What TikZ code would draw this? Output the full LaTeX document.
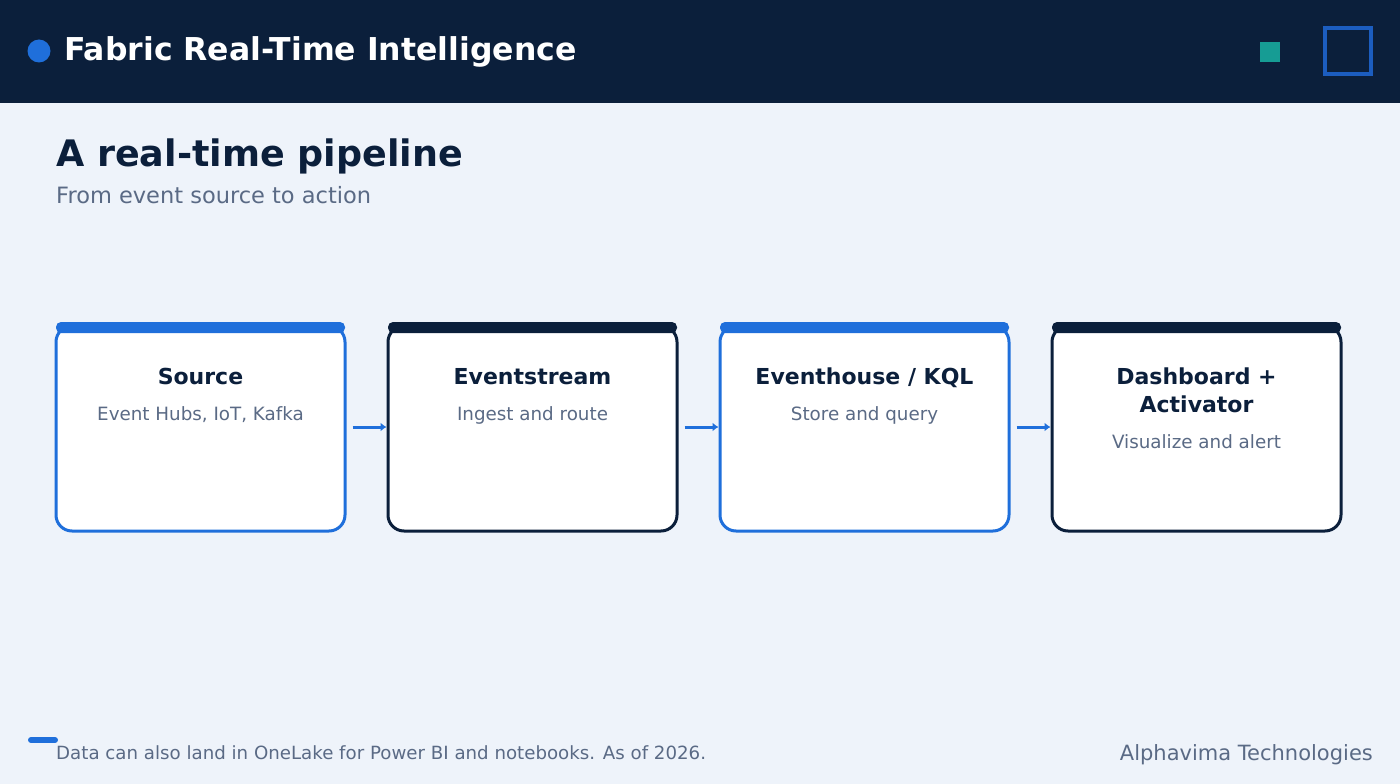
\documentclass[tikz,border=0pt]{standalone}
\usepackage{fontspec}
\setmainfont{DejaVu Sans}
\usetikzlibrary{arrows.meta}
\definecolor{bg}{HTML}{EEF3FA}
\definecolor{navy}{HTML}{0B1F3B}
\definecolor{blueA}{HTML}{1F6FDB}
\definecolor{blueB}{HTML}{1C5DBF}
\definecolor{teal}{HTML}{169C94}
\definecolor{greyT}{HTML}{5A6A85}
\tikzset{
  card/.style={draw=#1, line width=3pt, fill=white, rounded corners=16pt, minimum width=289pt, minimum height=205pt, inner sep=0pt},
  cardbar/.style={fill=#1, rounded corners=5pt, minimum width=289pt, minimum height=11pt, inner sep=0pt},
  ctitle/.style={text=navy, font=\bfseries\fontsize{22}{28}\selectfont, align=center, inner sep=0pt},
  csub/.style={text=greyT, font=\fontsize{18.3}{22}\selectfont, inner sep=0pt},
  conn/.style={draw=blueA, line width=3pt, -{Latex[length=6pt,width=9pt]}},
}
\begin{document}
\begin{tikzpicture}[x=1pt,y=-1pt]
\useasboundingbox (0,0) rectangle (1400,784);
\fill[bg] (0,0) rectangle (1400,784);
\fill[navy] (0,0) rectangle (1400,103);
\fill[blueA] (39,51) circle (11.5);
\node[anchor=base west, text=white, font=\bfseries\fontsize{31.5}{36}\selectfont, inner sep=0pt] (title) at (64,61) {Fabric Real-Time Intelligence};
\fill[teal] (1260,42) rectangle (1280,62);
\draw[blueB, line width=4pt] (1325,28) rectangle (1371,74);
\node[anchor=base west, text=navy, font=\bfseries\fontsize{36.5}{42}\selectfont, inner sep=0pt] (head) at (56,166) {A real-time pipeline};
\node[anchor=base west, text=greyT, font=\fontsize{22.5}{26}\selectfont, inner sep=0pt] (sub) at (56,203) {From event source to action};
% cards
\node[card=blueA] (b1) at (200.5,428.5) {};
\node[card=navy] (b2) at (532.5,428.5) {};
\node[card=blueA] (b3) at (864.5,428.5) {};
\node[card=navy] (b4) at (1196.5,428.5) {};
\node[cardbar=blueA] (t1) at (200.5,327.5) {};
\node[cardbar=navy] (t2) at (532.5,327.5) {};
\node[cardbar=blueA] (t3) at (864.5,327.5) {};
\node[cardbar=navy] (t4) at (1196.5,327.5) {};
\node[ctitle, anchor=base] (n1) at (200.5,384) {Source};
\node[csub, anchor=base] (s1) at (200.5,420) {Event Hubs, IoT, Kafka};
\node[ctitle, anchor=base] (n2) at (532.5,384) {Eventstream};
\node[csub, anchor=base] (s2) at (532.5,420) {Ingest and route};
\node[ctitle, anchor=base] (n3) at (864.5,384) {Eventhouse / KQL};
\node[csub, anchor=base] (s3) at (864.5,420) {Store and query};
\node[ctitle, anchor=base] (n4) at (1196.5,384) {Dashboard +};
\node[ctitle, anchor=base] (n4b) at (1196.5,412) {Activator};
\node[csub, anchor=base] (s4) at (1196.5,448) {Visualize and alert};
\draw[conn] ([xshift=6pt,yshift=1.5pt]b1.east) -- ([yshift=1.5pt]b2.west);
\draw[conn] ([xshift=6pt,yshift=1.5pt]b2.east) -- ([yshift=1.5pt]b3.west);
\draw[conn] ([xshift=6pt,yshift=1.5pt]b3.east) -- ([yshift=1.5pt]b4.west);
% footer
\draw[blueA, line width=6pt, line cap=round] (31,740) -- (55,740);
\node[anchor=base west, text=greyT, font=\fontsize{18.2}{22}\selectfont, inner sep=0pt] (foot) at (56,759) {Data can also land in OneLake for Power BI and notebooks. As of 2026.};
\node[anchor=base east, text=greyT, font=\fontsize{21}{25}\selectfont, inner sep=0pt] (brand) at (1373,760) {Alphavima Technologies};
\end{tikzpicture}
\end{document}
